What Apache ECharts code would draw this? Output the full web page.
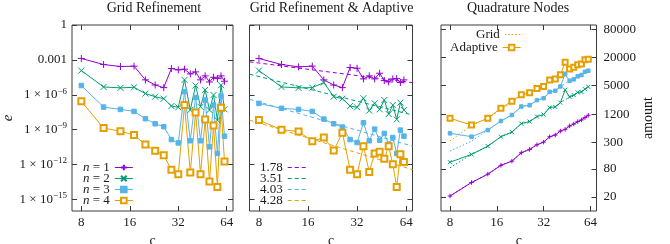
<!DOCTYPE html>
<html><head><meta charset="utf-8">
<script src="https://cdn.jsdelivr.net/npm/echarts@6/dist/echarts.min.js"></script>
<style>html,body{margin:0;padding:0;background:#fff}#c{width:670px;height:244px}</style>
</head><body><div id="c"></div>
<script>
// ---------- data ----------
const cValues = [8,11,14,17,20,23,26,29,32,35,38,41,44,47,50,53,56,59,62];
const xTicks = [8,16,32,64];
const errTicks = [1,1e-3,1e-6,1e-9,1e-12,1e-15];
const nodeTicks = [20,80,300,1200,5000,20000,80000];
const titles = ['Grid Refinement','Grid Refinement & Adaptive','Quadrature Nodes'];
const nLabels = ['n = 1','n = 2','n = 3','n = 4'];

// Grid refinement error
const gridErrN1 = [1.32e-3,3.98e-4,2.69e-4,2.88e-4,1.91e-5,6.9e-6,4.1e-6,1.82e-4,1.38e-4,1.58e-4,6.2e-5,9.3e-5,1.9e-5,4.2e-5,1.26e-5,3.2e-5,2.45e-5,4.2e-5,1.45e-5];
const gridErrN2 = [1.2e-4,4.7e-6,3.9e-6,4.4e-6,1.26e-6,6.8e-7,4.6e-7,1.07e-7,8.3e-8,1.9e-5,4.9e-8,6.2e-6,9.3e-8,2.6e-6,4.9e-8,9.5e-7,6.6e-9,6.6e-6,5.6e-8];
const gridErrN3 = [6.2e-6,8.7e-8,5.5e-8,3.7e-8,8.7e-9,3.2e-9,1.8e-9,1.4e-10,7.2e-11,1.86e-6,1.1e-10,6.0e-7,1.1e-10,3.5e-7,3.3e-11,1.3e-7,8.9e-12,7.8e-7,2.75e-10];
const gridErrN4 = [2.7e-7,1.35e-9,7.4e-10,3.4e-10,5.2e-11,1.5e-11,6.3e-12,3.6e-13,1.45e-13,1.3e-7,2.1e-13,3.0e-8,1.45e-13,7.6e-9,3.4e-14,2.3e-9,1.15e-14,7.8e-8,1.8e-12];

// Grid refinement & adaptive error
const adaErrN1 = [1.32e-3,4.0e-4,2.5e-4,2.9e-4,1.9e-5,6.9e-6,4.1e-6,2.2e-4,1.9e-4,2.3e-5,4.2e-5,2.3e-5,7.1e-5,1.66e-5,1.26e-5,2.3e-5,2.45e-5,1.12e-5,1.9e-5];
const adaErrN2 = [1.2e-4,4.7e-6,3.9e-6,4.1e-6,1.12e-5,6.8e-7,4.6e-7,1.07e-7,8.3e-8,5.0e-7,4.3e-8,1.86e-7,5.6e-8,3.5e-7,2.2e-8,1.3e-7,7.6e-9,2.1e-7,4.9e-8];
const adaErrN3 = [1.8e-7,6.8e-8,5.5e-8,3.7e-8,8.1e-9,3.2e-9,1.66e-9,1.4e-10,7.8e-11,3.9e-9,1.1e-10,1.1e-9,1.23e-10,4.7e-10,5.6e-11,2.1e-10,8.9e-12,9.1e-10,2.75e-10];
const adaErrN4 = [6.6e-9,9.8e-10,6.9e-10,1.02e-10,2.1e-10,1.6e-11,5.4e-10,3.6e-13,1.45e-13,3.8e-11,2.3e-13,8.9e-12,1.23e-11,3.2e-12,3.8e-11,1.05e-12,1.15e-14,7.8e-12,1.66e-12];

// fitted power laws (endpoints)
const fitLabels = ['1.78','3.51','4.03','4.28'];
const fitC = [7,70];
const fitN1 = [6.8e-4,1.1e-5];
const fitN2 = [5.9e-5,1.8e-8];
const fitN3 = [4.1e-7,3.8e-11];
const fitN4 = [6.6e-9,3.6e-13];

// quadrature nodes
const adaNodesN1 = [21,41,62,96,118,179,211,266,303,396,430,524,570,673,743,835,906,1021,1146];
const adaNodesN2 = [112,165,248,396,498,757,837,1074,1186,1680,1730,2140,4036,2850,3100,3550,3640,4180,4680];
const adaNodesN3 = [468,397,551,862,1161,1766,1884,2416,2666,3654,3840,4776,8810,6320,6780,7870,8400,9890,10400];
const adaNodesN4 = [986,706,986,1622,2296,3150,3475,4325,4776,6545,6872,8510,15770,11300,12300,14000,14500,17950,18300];
const gridNodesN1 = [21,41,62,96,118,179,211,266,303,396,430,524,570,673,743,835,906,1021,1146];
const gridNodesN2 = [85,165,248,396,498,757,837,1074,1186,1680,1730,2140,2450,2850,3100,3550,3640,4180,4680];
const gridNodesN3 = [194,318,551,862,1161,1766,1884,2416,2666,3654,3840,4776,5450,6320,6780,7870,8400,9890,10400];
const gridNodesN4 = [318,706,986,1545,2080,3150,3475,4325,4776,6545,6872,8510,9800,11300,12300,14000,14500,17950,18300];

// ---------- styling ----------
const FONT = "'Liberation Serif','Times New Roman',serif";
const TXT = '#1a1a1a';
const AX = '#3a3a3a';
const COLORS = ['#9400d3','#009e73','#56b4e9','#e69f00'];
const PLUS = 'path://M0,5L10,5M5,0L5,10';
const CROSS = 'path://M0,0L10,10M10,0L0,10';
const SYMS = [PLUS, CROSS, 'rect', 'emptyRect'];
const SIZES_BIG = [7,6,4.5,6];
const SIZES_SMALL = [4.5,4,3.5,5];

const grids = [
  {left:72, top:25, width:161, height:186},
  {left:249.5, top:25, width:163, height:186},
  {left:441, top:25, width:155.5, height:186}
].map(g => Object.assign(g, {show:true, borderColor:AX, borderWidth:1, backgroundColor:'transparent', containLabel:false, outerBoundsMode:'none'}));

function pts(xs, ys){ return xs.map((x,i)=>[x, ys[i]]); }

function xAx(g, pos, lab){
  return {type:'log', logBase:2, gridIndex:g, position:pos, min:7, max:70,
    axisLine:{show:false}, splitLine:{show:false}, minorTick:{show:false},
    axisTick:{show:true, inside:true, length:5, lineStyle:{color:AX, width:1}, customValues:xTicks},
    axisLabel:{show:lab, customValues:xTicks, formatter:v=>String(Math.round(v)), color:TXT, fontFamily:FONT, fontSize:13, margin:5},
    name: lab ? 'c' : '', nameLocation:'middle', nameGap:19,
    nameTextStyle:{color:TXT, fontFamily:FONT, fontSize:14}
  };
}
function errLabel(v){
  const k = Math.round(Math.log10(v));
  if (k === 0) return '1';
  if (k === -3) return '0.001';
  return '1 × 10{sup|−' + (-k) + '}';
}
function yErr(g, pos, lab, name){
  return {type:'log', logBase:10, gridIndex:g, position:pos, min:1e-16, max:1,
    axisLine:{show:false}, splitLine:{show:false}, minorTick:{show:false},
    axisTick:{show:true, inside:true, length:5, lineStyle:{color:AX, width:1}, customValues:errTicks},
    axisLabel:{show:lab, customValues:errTicks, formatter:errLabel, color:TXT, fontFamily:FONT, fontSize:13, margin:5, lineHeight:16,
      rich:{sup:{fontSize:9, lineHeight:8, verticalAlign:'top', fontFamily:FONT, color:TXT}}},
    name: name || '', nameLocation:'middle', nameGap:55,
    nameTextStyle:{color:TXT, fontFamily:FONT, fontSize:15, fontStyle:'italic'}
  };
}
function yNodes(g, pos, lab){
  return {type:'log', logBase:10, gridIndex:g, position:pos, min:10, max:1e5,
    axisLine:{show:false}, splitLine:{show:false}, minorTick:{show:false},
    axisTick:{show:true, inside:true, length:5, lineStyle:{color:AX, width:1}, customValues:nodeTicks},
    axisLabel:{show:lab, customValues:nodeTicks, formatter:v=>String(Math.round(v)), color:TXT, fontFamily:FONT, fontSize:13, margin:7},
    name: lab ? 'amount' : '', nameLocation:'middle', nameGap:45, nameRotate:90,
    nameTextStyle:{color:TXT, fontFamily:FONT, fontSize:14}
  };
}

const xAxes = [xAx(0,'bottom',true), xAx(0,'top',false), xAx(1,'bottom',true), xAx(1,'top',false), xAx(2,'bottom',true), xAx(2,'top',false)];
const yAxes = [yErr(0,'left',true,'e'), yErr(0,'right',false), yErr(1,'left',false), yErr(1,'right',false), yNodes(2,'right',true), yNodes(2,'left',false)];

function dataSeries(name, xi, yi, i, ys, small){
  return {type:'line', name:name, xAxisIndex:xi, yAxisIndex:yi, data:pts(cValues, ys),
    symbol:SYMS[i], symbolSize:(small?SIZES_SMALL:SIZES_BIG)[i], showSymbol:true,
    lineStyle:{color:COLORS[i], width:1},
    itemStyle:{color:COLORS[i], borderColor:COLORS[i], borderWidth:1},
    emphasis:{disabled:true}, animation:false, z:3};
}

const series = [];
const gridErr = [gridErrN1, gridErrN2, gridErrN3, gridErrN4];
const adaErr = [adaErrN1, adaErrN2, adaErrN3, adaErrN4];
const fits = [fitN1, fitN2, fitN3, fitN4];
const adaNodes = [adaNodesN1, adaNodesN2, adaNodesN3, adaNodesN4];
const gridNodes = [gridNodesN1, gridNodesN2, gridNodesN3, gridNodesN4];

for (let i = 0; i < 4; i++) series.push(dataSeries(nLabels[i], 0, 0, i, gridErr[i], false));
for (let i = 0; i < 4; i++) series.push(dataSeries('ada' + i, 2, 2, i, adaErr[i], false));
for (let i = 0; i < 4; i++) series.push({type:'line', name:fitLabels[i], xAxisIndex:2, yAxisIndex:2,
  data:pts(fitC, fits[i]), symbol:'none', lineStyle:{color:COLORS[i], width:1, type:[4,3]},
  itemStyle:{color:COLORS[i]}, emphasis:{disabled:true}, animation:false, z:2});
for (let i = 0; i < 4; i++) series.push({type:'line', name: i===3 ? 'Grid' : 'grid' + i, xAxisIndex:4, yAxisIndex:4,
  data:pts(cValues, gridNodes[i]), symbol:'none', lineStyle:{color:COLORS[i], width:1, type:[1.5,2]},
  itemStyle:{color:COLORS[i]}, emphasis:{disabled:true}, animation:false, z:2});
for (let i = 0; i < 4; i++) series.push(dataSeries(i===3 ? 'Adaptive' : 'nodes' + i, 4, 4, i, adaNodes[i], true));

const legText = {color:TXT, fontFamily:FONT, fontSize:13, lineHeight:11};
const legBase = {orient:'vertical', align:'right', itemWidth:18, itemHeight:7, itemGap:-2, padding:0, selectedMode:false,
  lineStyle:{width:1}};
const noSym = {itemStyle:{opacity:0, borderWidth:0}};

const legends = [
  Object.assign({}, legBase, {data:nLabels, left:83, top:161,
    formatter: n => '{i|n} = ' + n.slice(4),
    textStyle: Object.assign({}, legText, {rich:{i:{fontStyle:'italic', fontFamily:FONT, fontSize:13, lineHeight:11, color:TXT}}})}),
  Object.assign({}, legBase, noSym, {data:fitLabels, left:260, top:161, textStyle:legText}),
  Object.assign({}, legBase, noSym, {data:['Grid'], left:476, top:28, textStyle:legText}),
  Object.assign({}, legBase, {data:['Adaptive'], left:450, top:41, textStyle:legText})
];

const titleCenters = [154, 331.5, 518];
const title = titles.map((t,i)=>({text:t, left:titleCenters[i], top:1, textAlign:'center', padding:0,
  textStyle:{fontFamily:FONT, fontSize:14, fontWeight:'normal', color:TXT}}));

const chart = echarts.init(document.getElementById('c'), null, {renderer:'canvas'});
chart.setOption({
  animation:false,
  backgroundColor:'#fff',
  title:title,
  grid:grids,
  xAxis:xAxes,
  yAxis:yAxes,
  legend:legends,
  series:series
});
</script></body></html>
